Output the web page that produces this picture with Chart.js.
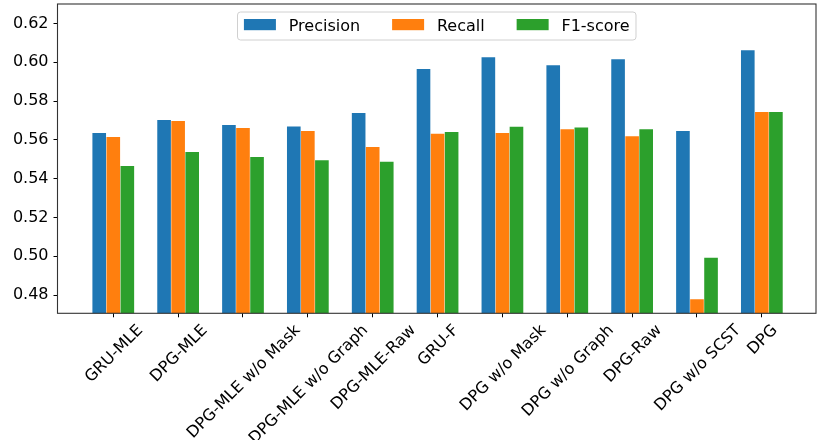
<!DOCTYPE html>
<html><head><meta charset="utf-8">
<script src="https://cdn.jsdelivr.net/npm/chart.js@4.4.1/dist/chart.umd.min.js"></script>
<style>html,body{margin:0;padding:0;background:#fff;}canvas{display:block;}</style>
</head><body>
<canvas id="c" width="832" height="440"></canvas>
<script>
const categories = ['GRU-MLE','DPG-MLE','DPG-MLE w/o Mask','DPG-MLE w/o Graph','DPG-MLE-Raw','GRU-F','DPG w/o Mask','DPG w/o Graph','DPG-Raw','DPG w/o SCST','DPG'];
const precision = [0.5635,0.5702,0.5676,0.5669,0.5738,0.5965,0.6025,0.5984,0.6015,0.5645,0.6062];
const recall    = [0.5614,0.5697,0.5661,0.5645,0.5563,0.5631,0.5635,0.5655,0.5619,0.4779,0.5743];
const f1score   = [0.5465,0.5537,0.5511,0.5495,0.5487,0.5640,0.5667,0.5664,0.5655,0.4992,0.5743];
const seriesNames = ['Precision','Recall','F1-score'];
const seriesColors = ['#1f77b4','#ff7f0e','#2ca02c'];
const yTicks = [0.48,0.50,0.52,0.54,0.56,0.58,0.60,0.62];
const yMin = 0.4706, yMax = 0.63;
const xMin = -0.86, xMax = 10.835;

const FONT = '"DejaVu Sans", sans-serif';

const framePlugin = {
  id:'frame',
  afterDatasetsDraw(chart){
    const {ctx, chartArea:a} = chart;
    ctx.save();
    ctx.strokeStyle = '#333';
    ctx.lineWidth = 1.1;
    ctx.strokeRect(a.left, a.top, a.right - a.left, a.bottom - a.top);
    ctx.restore();
  }
};

const xLabelPlugin = {
  id:'xlabels',
  afterDraw(chart){
    const {ctx, chartArea, scales:{x}} = chart;
    const fs = 16, h = fs * 1.164;
    ctx.save();
    ctx.font = fs + 'px ' + FONT;
    ctx.fillStyle = '#000';
    const top = chartArea.bottom + 7;
    categories.forEach((lab, i) => {
      const w = ctx.measureText(lab).width;
      const side = (w + h) / Math.SQRT2;
      const cx = x.getPixelForValue(i);
      const cy = top + side / 2;
      ctx.save();
      ctx.translate(cx, cy);
      ctx.rotate(-Math.PI / 4);
      ctx.textAlign = 'center';
      ctx.textBaseline = 'alphabetic';
      ctx.fillText(lab, 0, fs * 0.346);
      ctx.restore();
    });
    ctx.restore();
  }
};

const legendPlugin = {
  id:'legendbox',
  afterDraw(chart){
    const {ctx, chartArea:a} = chart;
    const fs = 16;
    ctx.save();
    ctx.font = fs + 'px ' + FONT;
    const widths = seriesNames.map(n => ctx.measureText(n).width);
    const pad = 6.4, hw = 32, hh = 11.2, tp = 12.8, cs = 32;
    const total = pad * 2 + widths.reduce((s, w) => s + hw + tp + w, 0) + cs * (seriesNames.length - 1);
    const left = (a.left + a.right) / 2 - total / 2;
    const top = a.top + 8;
    const height = 28;
    ctx.beginPath();
    ctx.roundRect(left, top, total, height, 3);
    ctx.fillStyle = 'rgba(255,255,255,0.8)';
    ctx.fill();
    ctx.strokeStyle = '#d0d0d0';
    ctx.lineWidth = 1;
    ctx.stroke();
    let xx = left + pad;
    seriesNames.forEach((n, k) => {
      ctx.fillStyle = seriesColors[k];
      ctx.fillRect(xx, top + 7, hw, hh);
      ctx.fillStyle = '#000';
      ctx.textAlign = 'left';
      ctx.textBaseline = 'alphabetic';
      ctx.fillText(n, xx + hw + tp, top + 18.7);
      xx += hw + tp + widths[k] + cs;
    });
    ctx.restore();
  }
};

const datasets = [precision, recall, f1score].map((arr, k) => ({
  label: seriesNames[k],
  data: arr.map((v, i) => ({x: i, y: v})),
  backgroundColor: seriesColors[k],
  borderWidth: 0,
  categoryPercentage: 0.65,
  barPercentage: 0.97
}));

new Chart(document.getElementById('c'), {
  type: 'bar',
  data: { datasets },
  options: {
    responsive: false,
    animation: false,
    devicePixelRatio: 1,
    layout: { padding: { left: 0, top: 4, right: 16, bottom: 0 } },
    plugins: { legend: { display: false }, tooltip: { enabled: false } },
    scales: {
      x: {
        type: 'linear', offset: false, min: xMin, max: xMax,
        afterBuildTicks: s => { s.ticks = categories.map((c, i) => ({ value: i })); },
        afterFit: s => { s.height = 126.7; s.paddingLeft = 0; s.paddingRight = 0; },
        ticks: { display: false },
        grid: { drawOnChartArea: false, drawTicks: true, tickLength: 4, color: '#000', offset: false },
        border: { display: false }
      },
      y: {
        min: yMin, max: yMax,
        afterBuildTicks: s => { s.ticks = yTicks.map(v => ({ value: v })); },
        afterFit: s => { s.width = 57.5; s.paddingTop = 0; s.paddingBottom = 0; },
        ticks: { font: { family: FONT, size: 16 }, color: '#000', padding: 5, callback: v => Number(v).toFixed(2) },
        grid: { drawOnChartArea: false, drawTicks: true, tickLength: 4, color: '#000' },
        border: { display: false }
      }
    }
  },
  plugins: [framePlugin, xLabelPlugin, legendPlugin]
});
</script>
</body></html>
